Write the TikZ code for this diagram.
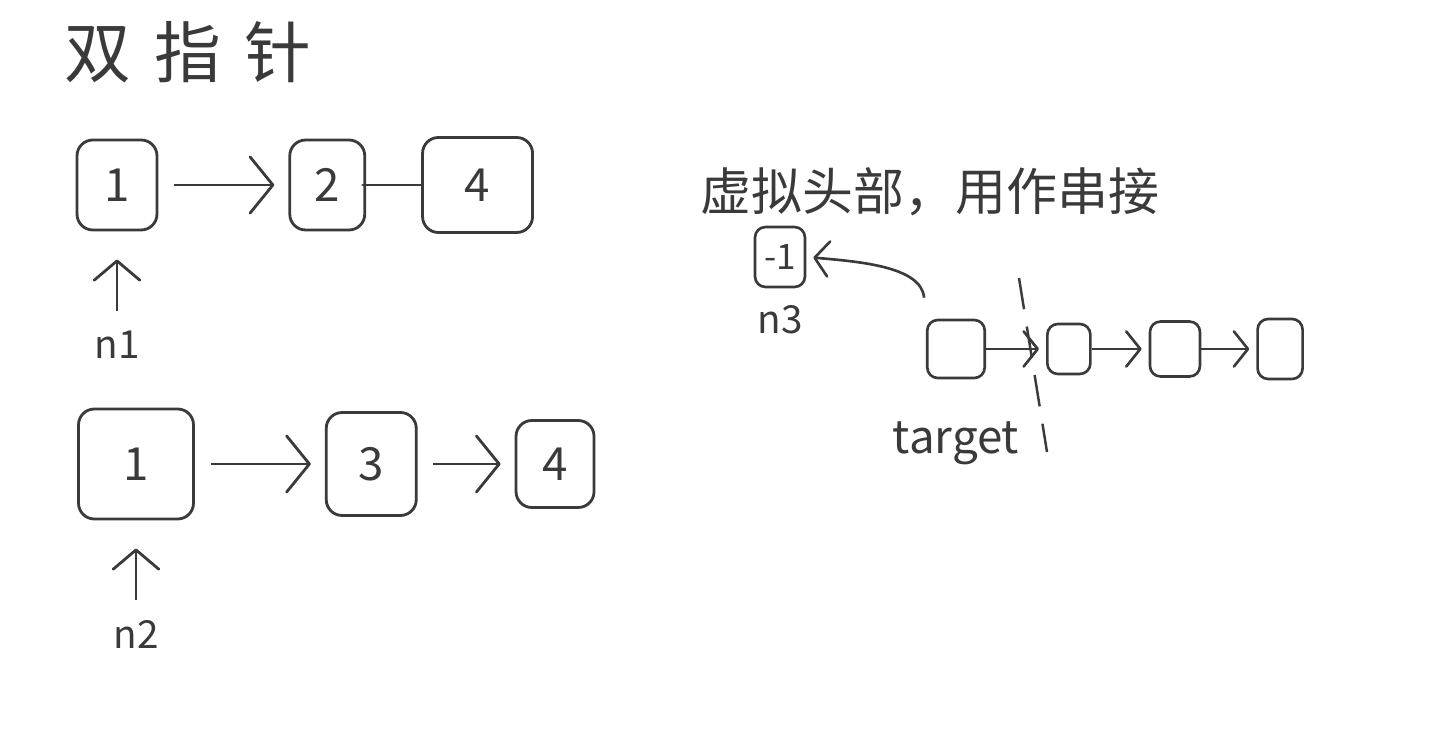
\documentclass[tikz,border=0pt]{standalone}
\usepackage{fontspec}
\newfontfamily\cjk{Noto Sans CJK SC}
\usetikzlibrary{positioning,arrows.meta}
\definecolor{ink}{HTML}{3A3A3A}

\begin{document}
\begin{tikzpicture}[
	x=0.02cm, y=-0.02cm,
	every node/.style={text=ink},
	listnode/.style={
		draw=ink,
		line width=1.6pt,
		rounded corners=9pt,
		inner sep=0pt,
		font=\cjk\fontsize{26}{26}\selectfont
	},
	smallnode/.style={listnode, line width=1.5pt, rounded corners=6pt, font=\cjk\fontsize{20}{20}\selectfont},
	lbl/.style={inner sep=1pt, font=\cjk\fontsize{22}{22}\selectfont},
	link/.style={-{Straight Barb[length=13pt,width=32pt,round]}, draw=ink, line width=1.6pt, shorten <=9pt, shorten >=8pt},
	plainlink/.style={draw=ink, line width=1.6pt, line cap=round, shorten <=-2pt, shorten >=0pt},
	smalllink/.style={-{Straight Barb[length=8pt,width=20pt,round]}, draw=ink, line width=1.5pt, shorten <=0pt, shorten >=4pt},
	ptr/.style={-{Straight Barb[length=11pt,width=26pt,round]}, draw=ink, line width=1.6pt, shorten <=10pt, shorten >=16pt}
	]
	
	\useasboundingbox (0,0) rectangle (1431,732);
	
	% titles
	\node[font=\cjk\fontsize{38}{38}\selectfont] (title) at (188,52) {双\hspace{0.35em}指\hspace{0.35em}针};
	\node[font=\cjk\fontsize{29}{29}\selectfont] (caption) at (930,192) {虚拟头部，用作串接};
	
	% first list
	\node[listnode, minimum width=1.6cm, minimum height=1.8cm] (a1) at (117,185) {1};
	\node[listnode, minimum width=1.5cm, minimum height=1.8cm, right=2.6cm of a1] (a2) {2};
	\node[listnode, minimum width=2.2cm, minimum height=1.9cm, right=1.1cm of a2] (a3) {4};
	\node[lbl, below=1.95cm of a1] (n1) {n1};
	
	\draw[link] (a1) -- (a2);
	\draw[plainlink] (a2) -- (a3);
	\draw[ptr] (n1) -- (a1);
	
	% second list
	\node[listnode, minimum width=2.3cm, minimum height=2.2cm] (b1) at (136,464) {1};
	\node[listnode, minimum width=1.8cm, minimum height=2.06cm, right=2.6cm of b1] (b2) {3};
	\node[listnode, minimum width=1.56cm, minimum height=1.74cm, right=1.94cm of b2] (b3) {4};
	\node[lbl, below=1.95cm of b1] (n2) {n2};
	
	\draw[link] (b1) -- (b2);
	\draw[link] (b2) -- (b3);
	\draw[ptr] (n2) -- (b1);
	
	% dummy head and target
	\node[smallnode, minimum width=1.0cm, minimum height=1.2cm] (dummy) at (780,257) {-1};
	\node[lbl, below=0.3cm of dummy] (n3) {n3};
	\node[smallnode, minimum width=1.15cm, minimum height=1.16cm] (t) at (956,349) {};
	\node[smallnode, minimum width=0.86cm, minimum height=1.0cm, right=1.2cm of t] (c1) {};
	\node[smallnode, minimum width=1.0cm, minimum height=1.1cm, right=1.14cm of c1] (c2) {};
	\node[smallnode, minimum width=0.9cm, minimum height=1.2cm, right=1.1cm of c2] (c3) {};
	\node[lbl, font=\cjk\fontsize{26}{26}\selectfont, below=0.8cm of t] (target) {target};
	
	\draw[smalllink, shorten <=12pt] (t.north west) to[out=95,in=-5] (dummy.east);
	\draw[smalllink] (t) -- (c1);
	\draw[smalllink] (c1) -- (c2);
	\draw[smalllink] (c2) -- (c3);
	
	% cut line
	\coordinate (cuttop) at (1019,278);
	\coordinate (cutbot) at (1047,452);
	\draw[ink, line width=1.4pt, dash pattern=on 18pt off 10pt] (cuttop) -- (cutbot);
	
\end{tikzpicture}
\end{document}
